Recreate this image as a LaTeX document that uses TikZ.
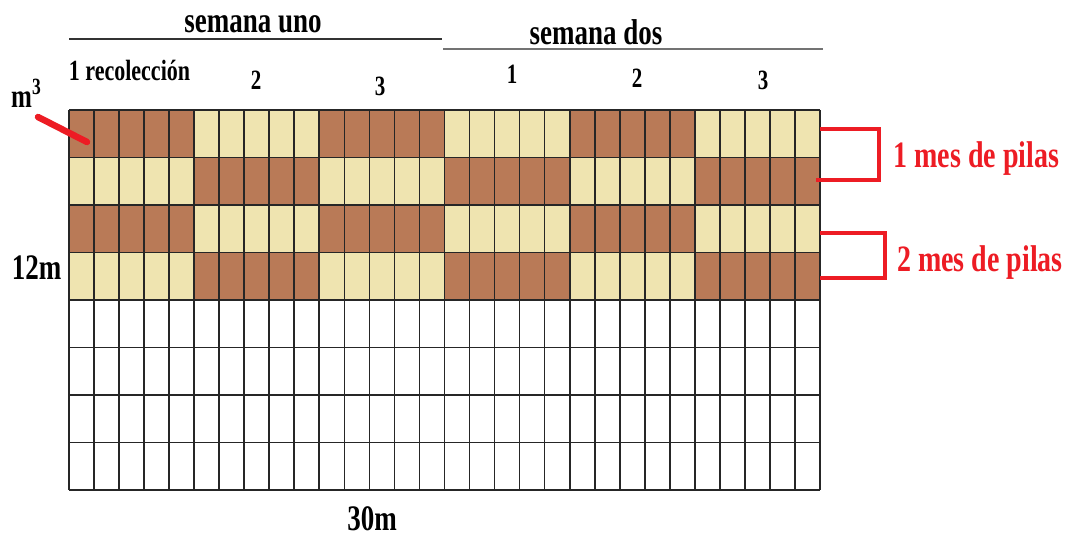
\documentclass[tikz,border=0pt]{standalone}
\usepackage{fontspec}
\setmainfont{Liberation Serif}
\usepackage{graphicx}
\definecolor{brownc}{HTML}{B97A57}
\definecolor{tanc}{HTML}{EFE4B0}
\definecolor{redc}{HTML}{ED1C24}
\newcommand{\tallT}[1]{\scalebox{1}[1.33]{#1}}
\begin{document}
\begin{tikzpicture}[x=1pt,y=-1pt,
  gridline/.style={line width=1.7pt,black!85},
  lbl/.style={inner sep=0pt,anchor=base,font=\bfseries},
  redlbl/.style={lbl,text=redc,font=\fontsize{28}{30}\selectfont\bfseries},
  bracket/.style={draw=redc,line width=4.6pt},
]
\useasboundingbox (0,0) rectangle (1073,538);
% coloured cells
\foreach \r in {0,...,3}{
  \foreach \b in {0,...,5}{
    \pgfmathtruncatemacro\p{mod(\r+\b,2)}
    \ifodd\p\def\cc{tanc}\else\def\cc{brownc}\fi
    \fill[\cc] (69+\b*125.1667,110+\r*47.5) rectangle ++(125.1667,47.5);
  }
}
% grid
\foreach \i in {0,...,30}{
  \draw[gridline] (69+\i*25.0333,110) -- (69+\i*25.0333,490);
}
\foreach \j in {0,...,8}{
  \draw[gridline] (69,110+\j*47.5) -- (820,110+\j*47.5);
}
% headers
\node[lbl,font=\fontsize{27}{29}\selectfont\bfseries] (s1) at (253,32) {\tallT{semana uno}};
\node[lbl,font=\fontsize{27}{29}\selectfont\bfseries] (s2) at (596,44) {\tallT{semana dos}};
\coordinate (l1a) at (69,39); \coordinate (l1b) at (442,39);
\coordinate (l2a) at (443,49); \coordinate (l2b) at (823,49);
\draw[line width=2.2pt,black!80] (l1a) -- (l1b);
\draw[line width=1.8pt,black!55] (l2a) -- (l2b);
\node[lbl,font=\fontsize{22}{24}\selectfont\bfseries] (r1) at (129.5,80) {\tallT{1 recolección}};
\node[lbl,font=\fontsize{21}{23}\selectfont\bfseries] (n2) at (256,89) {\tallT{2}};
\node[lbl,font=\fontsize{21}{23}\selectfont\bfseries] (n3) at (380,95) {\tallT{3}};
\node[lbl,font=\fontsize{21}{23}\selectfont\bfseries] (d1) at (512,83) {\tallT{1}};
\node[lbl,font=\fontsize{21}{23}\selectfont\bfseries] (d2) at (637,87) {\tallT{2}};
\node[lbl,font=\fontsize{21}{23}\selectfont\bfseries] (d3) at (763,89) {\tallT{3}};
% side labels
\node[lbl,anchor=base west,font=\fontsize{25}{27}\selectfont\bfseries] (m3) at (11,107) {\tallT{m\textsuperscript{3}}};
\coordinate (ra) at (38,117); \coordinate (rb) at (87,142);
\draw[redc,line width=6.5pt,line cap=round] (ra) -- (rb);
\node[lbl,font=\fontsize{27}{29}\selectfont\bfseries] (h12) at (36.5,279) {\tallT{12m}};
\node[lbl,font=\fontsize{27}{29}\selectfont\bfseries] (w30) at (372,530) {\tallT{30m}};
% brackets
\coordinate (b1a) at (820,129); \coordinate (b1b) at (879,129);
\coordinate (b1c) at (879,180); \coordinate (b1d) at (816,180);
\draw[bracket] (b1a) -- (b1b) -- (b1c) -- (b1d);
\coordinate (b2a) at (820,233); \coordinate (b2b) at (885,233);
\coordinate (b2c) at (885,278); \coordinate (b2d) at (820,278);
\draw[bracket] (b2a) -- (b2b) -- (b2c) -- (b2d);
\node[redlbl] (p1) at (976.5,167) {\tallT{1 mes de pilas}};
\node[redlbl] (p2) at (980,271) {\tallT{2 mes de pilas}};
\end{tikzpicture}
\end{document}
